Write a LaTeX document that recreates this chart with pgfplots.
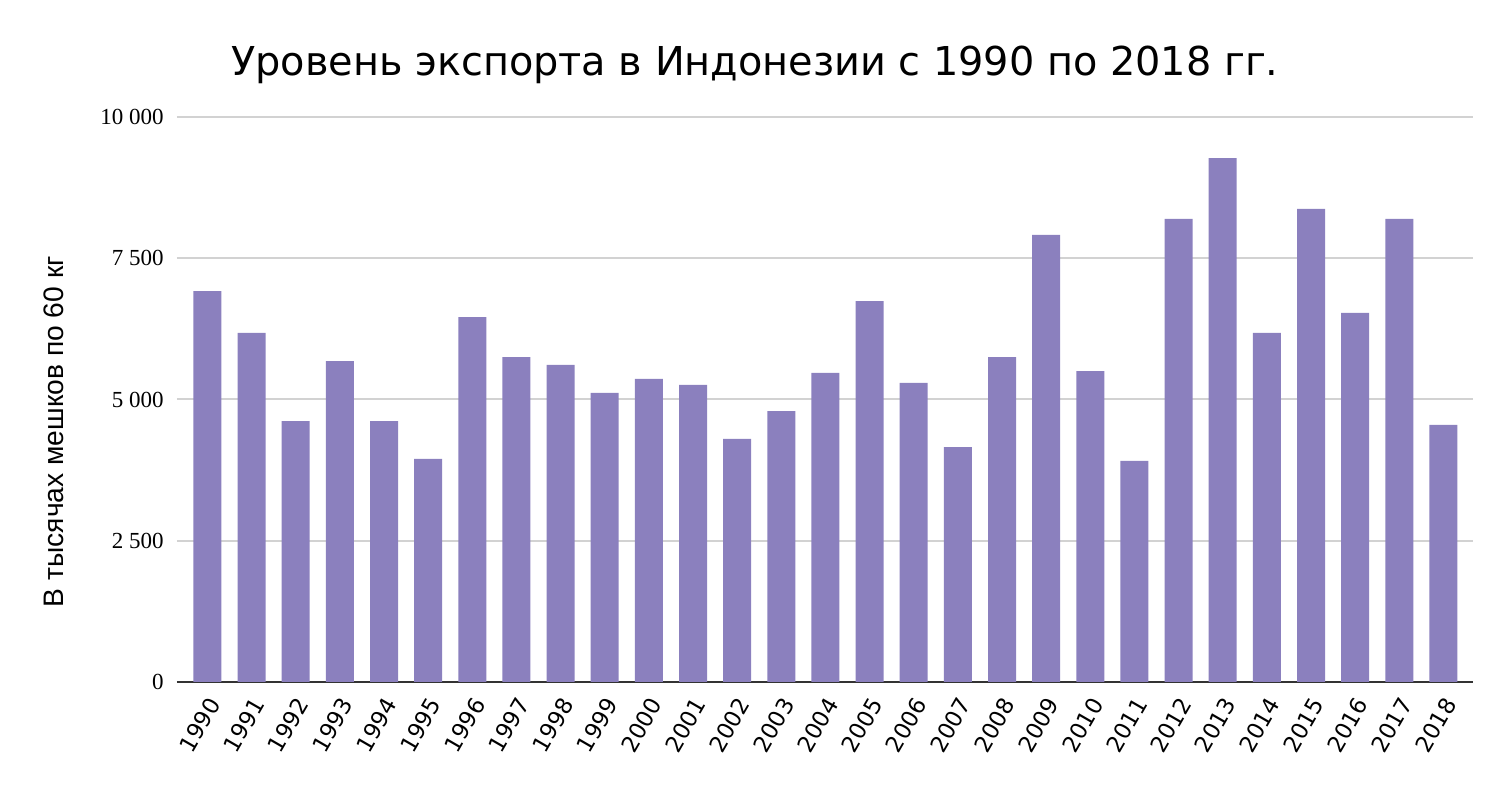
\documentclass[border=0pt]{standalone}
\usepackage{fontspec}
\setmainfont{Liberation Serif}
\newfontfamily\dejavu{DejaVu Sans}
\newfontfamily\arial{Liberation Sans}
\usepackage{pgfplots}
\pgfplotsset{compat=1.18}
\definecolor{barc}{RGB}{139,128,190}
\definecolor{gridc}{RGB}{210,210,210}
\definecolor{axc}{RGB}{51,51,51}
\begin{document}
\begin{tikzpicture}
\useasboundingbox (-88.5pt,-52pt) rectangle (665.5pt,341pt);
\begin{axis}[
  at={(0,0)}, anchor=south west,
  scale only axis,
  width=648pt, height=282.5pt,
  ybar, bar width=14pt,
  xmin=-0.69, xmax=28.67,
  ymin=0, ymax=10000,
  scaled y ticks=false,
  axis x line*=bottom, axis y line*=left,
  y axis line style={draw=none},
  x axis line style={draw=axc, line width=1pt},
  major tick length=0pt,
  xtick={0,...,28},
  xticklabels={1990,1991,1992,1993,1994,1995,1996,1997,1998,1999,2000,2001,2002,2003,2004,2005,2006,2007,2008,2009,2010,2011,2012,2013,2014,2015,2016,2017,2018},
  xticklabel style={font=\dejavu\fontsize{11.3pt}{13pt}\selectfont, rotate=60, anchor=east, inner sep=0pt, xshift=-6pt, yshift=-7.5pt},
  ytick={0,2500,5000,7500,10000},
  yticklabels={0,2 500,5 000,7 500,10 000},
  yticklabel style={font=\fontsize{11.5pt}{13pt}\selectfont, anchor=east, inner sep=0pt, xshift=-6.5pt},
  ymajorgrids, grid style={draw=gridc, line width=1pt},
  ylabel={В тысячах мешков по 60 кг},
  ylabel style={font=\arial\fontsize{14.1pt}{16pt}\selectfont, at={(axis description cs:-0.095,0.443)}, anchor=center},
  title={Уровень экспорта в Индонезии с 1990 по 2018 гг.},
  title style={font=\dejavu\fontsize{19.9pt}{22pt}\selectfont, at={(axis description cs:0.446,1.071)}, anchor=center},
]
\addplot[fill=barc, draw=none] coordinates {
(0,6920) (1,6177) (2,4619) (3,5681) (4,4619) (5,3947) (6,6460) (7,5752)
(8,5611) (9,5115) (10,5363) (11,5257) (12,4301) (13,4796) (14,5469)
(15,6743) (16,5292) (17,4159) (18,5752) (19,7912) (20,5504) (21,3912)
(22,8195) (23,9274) (24,6177) (25,8372) (26,6531) (27,8195) (28,4549)
};
\end{axis}
\end{tikzpicture}
\end{document}
